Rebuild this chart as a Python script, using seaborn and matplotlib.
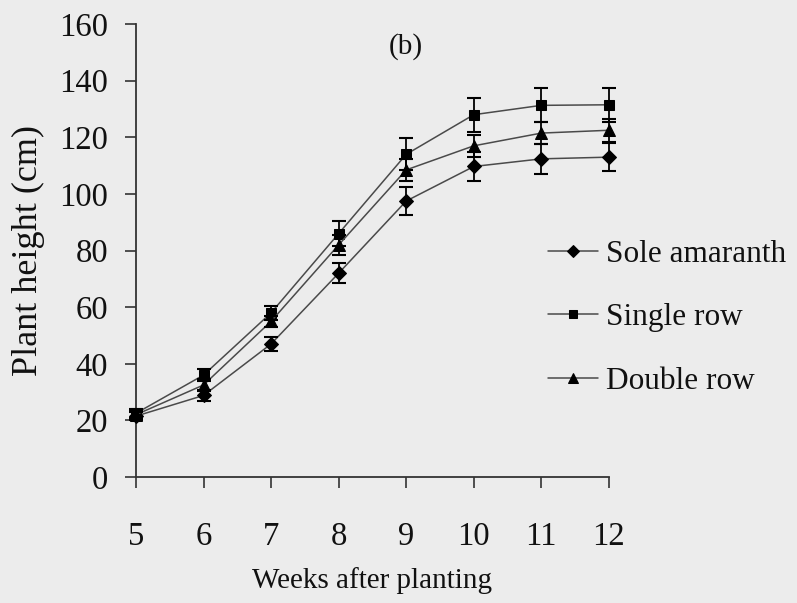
import matplotlib
matplotlib.use("Agg")
import matplotlib.pyplot as plt
import seaborn as sns
import numpy as np
import pandas as pd

# data
weeks = [5, 6, 7, 8, 9, 10, 11, 12]
series_names = ["Sole amaranth", "Single row", "Double row"]
sole_amaranth = [21.5, 28.8, 47, 72, 97.5, 109.7, 112.4, 113]
single_row = [22.5, 36, 58, 86, 114, 128, 131.3, 131.5]
double_row = [22, 32.5, 55, 82, 108.5, 117, 121.5, 122.5]
sole_err = [1.5, 2, 2.5, 3.5, 5, 5, 5.3, 5]
single_err = [1.5, 2, 2.5, 4.5, 5.7, 6, 6, 6]
double_err = [1.5, 2, 2, 3.5, 4, 4, 4, 4]
y_ticks = [0, 20, 40, 60, 80, 100, 120, 140, 160]

sns.set_style("ticks")
plt.rcParams['font.family'] = ['Liberation Serif', 'DejaVu Serif']

bg = '#ececec'
fig = plt.figure(figsize=(7.97, 6.03), dpi=100, facecolor=bg)
ax = fig.add_axes([0.1706, 0.209, 0.5934, 0.751])
ax.set_facecolor(bg)

values = [sole_amaranth, single_row, double_row]
errors = [sole_err, single_err, double_err]
markers = ['D', 's', '^']
msizes = [7.5, 7.5, 8]

for name, vals, err, mk, ms in zip(series_names, values, errors, markers, msizes):
    df = pd.DataFrame({'week': weeks, 'height': vals})
    sns.lineplot(data=df, x='week', y='height', ax=ax, label=name,
                 color='#4a4a4a', linewidth=1.1, marker=mk, markersize=ms,
                 markerfacecolor='black', markeredgecolor='black',
                 clip_on=False, zorder=3)
    ax.errorbar(weeks, vals, yerr=err, fmt='none', ecolor='black',
                elinewidth=1.3, capsize=4.7, capthick=1.5, clip_on=False, zorder=4)

ax.set_xlim(5, 12)
ax.set_ylim(0, 160)
ax.set_xticks(weeks)
ax.set_yticks(y_ticks)
ax.tick_params(axis='x', labelsize=23.5, length=8, width=1.2, pad=24, color='#333333', labelcolor='#111111')
ax.tick_params(axis='y', labelsize=23.5, length=8, width=1.2, pad=12, color='#333333', labelcolor='#111111')
for s in ['top', 'right']:
    ax.spines[s].set_visible(False)
for s in ['left', 'bottom']:
    ax.spines[s].set_color('#333333')
    ax.spines[s].set_linewidth(1.3)

ax.set_xlabel('Weeks after planting', fontsize=21, labelpad=11, color='#111111')
ax.set_ylabel('Plant height (cm)', fontsize=26, labelpad=10, color='#111111')
ax.text(9.0, 152, '(b)', fontsize=21, ha='center', va='center', color='#111111')

leg = ax.legend(loc='upper left', bbox_to_anchor=(548 / 797, 1 - 240 / 603),
                bbox_transform=fig.transFigure, frameon=False, fontsize=22.5,
                handlelength=1.6, handletextpad=0.25, labelspacing=1.1,
                borderpad=0, borderaxespad=0, markerscale=0.85)
for t in leg.get_texts():
    t.set_color('#111111')

fig.savefig('out.png', dpi=100, facecolor=bg)
